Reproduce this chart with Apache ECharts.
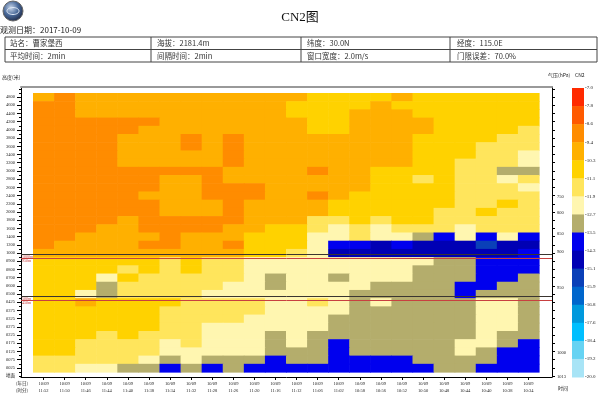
<!DOCTYPE html>
<html><head><meta charset="utf-8">
<script src="https://cdn.jsdelivr.net/npm/echarts@6/dist/echarts.min.js"></script>
<style>html,body{margin:0;padding:0;background:#fff}#c{width:600px;height:394px}</style>
</head><body><div id="c"></div>
<script>
// ---- data ----
const heightLabels = ['4800','4600','4400','4200','4000','3800','3600','3400','3200','3000','2800','2600','2400','2200','2000','1800','1600','1400','1200','1000','0900','0800','0700','0600','0500','0425','0375','0325','0275','0225','0175','0125','0075','0025'];
const groundLabel = '地面';
const dateLabel = '10/09';
const timeLabels = ['11:52','11:50','11:46','11:44','11:40','11:38','11:34','11:32','11:28','11:26','11:20','11:16','11:12','11:06','11:02','10:58','10:56','10:52','10:50','10:48','10:44','10:40','10:38','10:34'];
// log10(CN2), rows top (4800) -> bottom (0025), columns left -> right
const cn2 = [
[-9.8,-9.0,-9.8,-9.8,-9.8,-9.8,-9.8,-9.8,-9.8,-9.8,-9.8,-9.8, -9.8,-10.7,-10.7,-10.7,-10.7,-9.8,-10.7,-10.7,-10.7,-10.7,-10.7,-10.7],
[-9.0,-9.0,-9.8,-9.8,-9.8,-9.8,-9.8,-9.8,-9.8,-9.8,-9.8,-9.8, -10.7,-10.7,-10.7,-10.7,-9.8,-10.7,-10.7,-10.7,-10.7,-10.7,-10.7,-10.7],
[-9.0,-9.0,-9.8,-9.8,-9.8,-9.8,-9.8,-9.8,-9.8,-9.8,-9.8,-9.8, -10.7,-10.7,-10.7,-9.8,-9.8,-9.8,-10.7,-10.7,-10.7,-10.7,-10.7,-10.7],
[-9.0,-9.0,-9.0,-9.0,-9.0,-9.0,-9.8,-9.8,-9.8,-9.8,-9.8,-9.8, -9.8,-10.7,-10.7,-9.8,-9.8,-9.8,-9.8,-10.7,-10.7,-10.7,-10.7,-10.7],
[-9.0,-9.0,-9.0,-9.0,-9.0,-9.8,-9.8,-9.8,-9.8,-9.8,-9.8,-9.8, -9.8,-10.7,-10.7,-9.8,-9.8,-9.8,-9.8,-10.7,-10.7,-10.7,-10.7,-11.5],
[-9.0,-9.0,-9.0,-9.0,-9.8,-9.8,-9.8,-9.0,-9.8,-9.0,-9.8,-9.8, -9.8,-9.8,-9.8,-9.8,-9.8,-9.8,-10.7,-10.7,-10.7,-10.7,-11.5,-11.5],
[-9.0,-9.0,-9.0,-9.0,-9.8,-9.8,-9.8,-9.0,-9.8,-9.0,-9.8,-9.8, -9.8,-9.8,-9.8,-9.8,-9.8,-9.8,-10.7,-10.7,-10.7,-11.5,-11.5,-11.5],
[-9.0,-9.0,-9.0,-9.0,-9.8,-9.8,-9.8,-9.8,-9.8,-9.0,-9.8,-9.8, -9.8,-9.8,-9.8,-9.8,-9.8,-9.8,-10.7,-10.7,-10.7,-11.5,-11.5,-12.3],
[-9.0,-9.0,-9.0,-9.0,-9.8,-9.8,-9.8,-9.8,-9.8,-9.0,-9.8,-9.8, -9.8,-9.8,-9.8,-9.8,-9.8,-9.8,-10.7,-10.7,-11.5,-11.5,-11.5,-12.3],
[-9.0,-9.0,-9.0,-9.0,-9.0,-9.0,-9.0,-9.0,-9.0,-9.8,-9.8,-9.8, -9.8,-9.0,-9.8,-9.8,-10.7,-10.7,-10.7,-10.7,-11.5,-11.5,-13.1,-13.1],
[-9.0,-9.0,-9.0,-9.0,-9.0,-9.0,-9.8,-9.8,-9.0,-9.8,-9.8,-9.8, -9.8,-9.8,-9.8,-9.8,-10.7,-10.7,-11.5,-10.7,-11.5,-11.5,-12.3,-11.5],
[-9.0,-9.0,-9.0,-9.0,-9.0,-9.0,-9.8,-9.8,-9.0,-9.0,-9.0,-9.8, -9.8,-9.8,-9.8,-9.8,-10.7,-10.7,-10.7,-10.7,-11.5,-11.5,-11.5,-12.3],
[-9.0,-9.0,-9.0,-9.0,-9.0,-9.8,-9.8,-9.8,-9.0,-9.0,-9.0,-9.8, -9.8,-9.0,-9.8,-10.7,-10.7,-10.7,-10.7,-10.7,-11.5,-11.5,-11.5,-11.5],
[-9.0,-9.0,-9.0,-9.0,-9.0,-9.0,-9.8,-9.8,-9.8,-9.0,-9.8,-9.8, -9.8,-9.8,-10.7,-10.7,-10.7,-10.7,-10.7,-10.7,-11.5,-11.5,-10.7,-11.5],
[-9.0,-9.0,-9.0,-9.0,-9.0,-9.0,-9.8,-9.8,-9.8,-9.0,-9.8,-9.8, -9.8,-9.8,-10.7,-10.7,-10.7,-10.7,-10.7,-11.5,-11.5,-10.7,-11.5,-11.5],
[-9.0,-9.0,-9.0,-9.0,-9.8,-9.0,-9.0,-9.0,-9.0,-9.0,-9.8,-9.8, -9.8,-11.5,-11.5,-10.7,-11.5,-10.7,-10.7,-11.5,-11.5,-11.5,-11.5,-11.5],
[-9.0,-9.0,-9.0,-9.8,-9.8,-9.0,-9.0,-9.0,-9.0,-9.8,-9.8,-10.7, -10.7,-11.5,-12.3,-11.5,-12.3,-11.5,-11.5,-11.5,-12.3,-11.5,-11.5,-11.5],
[-9.0,-9.0,-9.8,-9.8,-9.8,-9.8,-9.0,-9.8,-9.8,-9.8,-10.7,-10.7, -10.7,-12.3,-12.3,-11.5,-12.3,-12.3,-13.1,-13.9,-12.3,-13.9,-12.3,-13.9],
[-9.0,-9.8,-9.8,-9.8,-9.8,-9.0,-9.0,-9.8,-9.8,-9.0,-10.7,-10.7, -10.7,-12.3,-13.9,-13.9,-14.7,-13.9,-14.7,-14.7,-14.7,-15.5,-14.7,-14.7],
[-9.8,-9.8,-9.8,-9.8,-9.8,-9.8,-9.8,-9.8,-9.8,-9.8,-10.7,-10.7, -11.5,-12.3,-14.7,-14.7,-14.7,-14.7,-14.7,-14.7,-14.7,-14.7,-14.7,-13.9],
[-10.7,-10.7,-10.7,-10.7,-10.7,-10.7,-11.5,-10.7,-11.5,-11.5,-12.3,-12.3, -12.3,-12.3,-12.3,-12.3,-12.3,-12.3,-12.3,-13.1,-13.1,-13.9,-13.9,-13.9],
[-10.7,-10.7,-10.7,-10.7,-11.5,-10.7,-11.5,-10.7,-11.5,-11.5,-12.3,-12.3, -12.3,-12.3,-12.3,-12.3,-12.3,-12.3,-13.1,-13.1,-13.1,-13.9,-13.9,-13.9],
[-10.7,-10.7,-10.7,-12.3,-10.7,-11.5,-11.5,-11.5,-11.5,-11.5,-12.3,-13.1, -12.3,-12.3,-13.1,-12.3,-12.3,-12.3,-13.1,-13.1,-13.1,-13.9,-13.9,-13.1],
[-10.7,-10.7,-10.7,-13.1,-11.5,-11.5,-11.5,-11.5,-11.5,-12.3,-12.3,-13.1, -12.3,-12.3,-12.3,-12.3,-13.1,-13.1,-13.1,-13.1,-13.9,-13.9,-13.1,-13.1],
[-10.7,-10.7,-12.3,-13.1,-11.5,-11.5,-11.5,-11.5,-12.3,-12.3,-12.3,-12.3, -12.3,-12.3,-12.3,-13.1,-13.1,-13.1,-13.1,-13.1,-13.9,-13.1,-13.1,-13.1],
[-10.7,-10.7,-9.8,-10.7,-10.7,-10.7,-10.7,-11.5,-11.5,-11.5,-11.5,-12.3, -12.3,-11.5,-12.3,-13.1,-12.3,-13.1,-13.1,-13.1,-13.1,-12.3,-12.3,-13.1],
[-10.7,-10.7,-10.7,-10.7,-10.7,-10.7,-11.5,-11.5,-11.5,-11.5,-11.5,-12.3, -12.3,-12.3,-12.3,-13.1,-13.1,-13.1,-13.1,-13.1,-13.1,-12.3,-12.3,-13.1],
[-10.7,-10.7,-10.7,-10.7,-10.7,-10.7,-11.5,-11.5,-11.5,-11.5,-12.3,-12.3, -12.3,-12.3,-13.1,-13.1,-13.1,-13.1,-13.1,-13.1,-13.1,-12.3,-12.3,-13.1],
[-10.7,-10.7,-10.7,-10.7,-10.7,-10.7,-11.5,-11.5,-12.3,-12.3,-12.3,-12.3, -12.3,-12.3,-13.1,-13.1,-13.1,-13.1,-13.1,-13.1,-13.1,-12.3,-12.3,-13.1],
[-10.7,-10.7,-10.7,-11.5,-10.7,-11.5,-11.5,-11.5,-12.3,-12.3,-12.3,-13.1, -12.3,-13.1,-13.1,-13.1,-13.1,-13.1,-13.1,-13.1,-13.1,-12.3,-13.1,-13.1],
[-10.7,-10.7,-11.5,-11.5,-11.5,-11.5,-12.3,-11.5,-12.3,-12.3,-12.3,-13.1, -12.3,-13.1,-13.9,-13.1,-13.1,-13.1,-13.1,-13.1,-12.3,-12.3,-13.1,-13.9],
[-10.7,-10.7,-11.5,-11.5,-11.5,-11.5,-12.3,-12.3,-12.3,-12.3,-12.3,-13.1, -13.1,-13.1,-13.9,-13.1,-13.1,-13.1,-13.1,-13.1,-12.3,-13.1,-13.9,-13.9],
[-11.5,-11.5,-11.5,-11.5,-11.5,-12.3,-13.1,-12.3,-13.1,-13.1,-13.1,-13.9, -13.1,-13.1,-13.9,-13.9,-13.9,-13.9,-13.1,-13.1,-13.1,-13.1,-13.9,-13.9],
[-11.5,-11.5,-12.3,-12.3,-13.1,-13.1,-13.9,-13.1,-13.9,-13.1,-13.9,-13.9, -13.9,-13.9,-13.9,-13.9,-13.9,-13.9,-13.9,-13.1,-13.1,-13.9,-13.9,-13.9]
];
const cn2Bounds = [-7.0,-7.8,-8.6,-9.4,-10.3,-11.1,-11.9,-12.7,-13.5,-14.3,-15.1,-15.9,-16.8,-17.6,-18.4,-19.2,-20.0];
const cn2Colors = ['#FF2A00','#FF5A00','#FF8C00','#FFB000','#FFD200','#FFE55C','#FFF6B0','#B4AD6C','#0000EE','#0000B4','#0A40B8','#0066CC','#0099DD','#00BFFF','#66D3F3','#A8E4F6'];
const pressureLabels = ['750','800','850','900','950','1000','1013'];
const pressureRows = [20.9, 18.9, 16.3, 14.2, 9.8, 1.8, -1.1];
const refLines = [
  {name:'1000m', row:13.83, color:'#3a3530'},
  {name:'950m', row:13.35, color:'#c84040'},
  {name:'500m', row:8.72, color:'#3a3530'},
  {name:'450m', row:8.24, color:'#c84040'}
];
const stationInfo = [
  ['站名：曹家堡西','海拔：2181.4m','纬度：30.0N','经度：115.0E'],
  ['平均时间：2min','间隔时间：2min','窗口宽度：2.0m/s','门限误差：70.0%']
];

// ---- build ----
const NR = heightLabels.length, NC = timeLabels.length;
const cells = [];
cn2.forEach((row, r) => row.forEach((v, c) => cells.push([c, NR - 1 - r, v])));
const X_MIN = -1.069, X_MAX = 24.117, Y_MIN = -1.107, Y_MAX = 34.229;
const colIdx = timeLabels.map((t, i) => i);
const rowIdx = heightLabels.map((t, i) => i);
const halfRows = [];
for (let v = -1; v <= 34; v += 0.5) halfRows.push(v);
const intRows = [];
for (let v = -1; v <= 34; v++) intRows.push(v);
const pieces = cn2Colors.map((col, i) => ({min: cn2Bounds[i + 1], max: cn2Bounds[i], color: col}));
const barData = cn2Colors.map((col, i) => [0.5, cn2Colors.length - 1 - i + 0.5, i]);
const FONT = '"Liberation Serif","Noto Sans CJK SC",serif';
const CJK = '"Noto Sans CJK SC",sans-serif';

const graphics = [
  {type:'circle', shape:{cx:13, cy:11, r:10}, style:{fill:{type:'radial', x:0.4, y:0.35, r:0.7, colorStops:[{offset:0,color:'#c8d6ea'},{offset:0.5,color:'#4a6a9a'},{offset:1,color:'#1a2440'}]}, stroke:'#666', lineWidth:1}},
  {type:'ellipse', shape:{cx:13, cy:11, rx:6, ry:3.5}, style:{fill:'none', stroke:'#dfe8f5', lineWidth:1}},
  {type:'text', x:0, y:30, style:{text:'观测日期：2017-10-09', font:'8px ' + CJK, fill:'#222', verticalAlign:'middle'}},
  {type:'rect', shape:{x:5, y:37, width:592, height:25}, style:{fill:'none', stroke:'#444', lineWidth:1}},
  {type:'line', shape:{x1:5, y1:49.5, x2:597, y2:49.5}, style:{stroke:'#444', lineWidth:1}},
  {type:'line', shape:{x1:151, y1:37, x2:151, y2:62}, style:{stroke:'#444', lineWidth:1}},
  {type:'line', shape:{x1:301, y1:37, x2:301, y2:62}, style:{stroke:'#444', lineWidth:1}},
  {type:'line', shape:{x1:450, y1:37, x2:450, y2:62}, style:{stroke:'#444', lineWidth:1}},
  {type:'text', x:2, y:77, style:{text:'高度(米)', font:'5px ' + CJK, fill:'#222', verticalAlign:'middle'}},
  {type:'text', x:548, y:75, style:{text:'气压(hPa)', font:'5px ' + CJK, fill:'#222', verticalAlign:'middle'}},
  {type:'text', x:575, y:75, style:{text:'CN2', font:'5px ' + CJK, fill:'#222', verticalAlign:'middle'}},
  {type:'text', x:16, y:387, style:{text:'(年日)\n(时分)', font:'4.5px ' + CJK, fill:'#222', verticalAlign:'middle', lineHeight:7}},
  {type:'text', x:558, y:388, style:{text:'时间', font:'5px ' + CJK, fill:'#222', verticalAlign:'middle'}}
];
const colX = [10, 157, 307, 457];
stationInfo.forEach((row, r) => row.forEach((t, c) => graphics.push(
  {type:'text', x:colX[c], y:43.5 + r * 12.5, style:{text:t, font:'7.5px ' + CJK, fill:'#333', verticalAlign:'middle'}}
)));

const chart = echarts.init(document.getElementById('c'));
chart.setOption({
  animation: false,
  backgroundColor: '#fff',
  title: {text:'CN2图', left:'center', top:6, textStyle:{fontFamily:FONT, fontSize:13, fontWeight:'normal', color:'#111'}},
  grid: [
    {left:21, top:87, width:531, height:291},
    {left:572, top:88, width:12, height:289}
  ],
  xAxis: [
    {gridIndex:0, type:'value', min:X_MIN, max:X_MAX, position:'bottom',
     axisLine:{onZero:false, lineStyle:{color:'#000', width:1}},
     axisTick:{customValues:colIdx, length:3, lineStyle:{color:'#000'}},
     axisLabel:{customValues:colIdx, formatter:v => dateLabel + '\n' + timeLabels[Math.round(v)], fontSize:4.5, lineHeight:7, margin:3, color:'#222', fontFamily:FONT},
     splitLine:{show:false}},
    {gridIndex:0, type:'value', min:X_MIN, max:X_MAX, position:'top',
     axisLine:{onZero:false, lineStyle:{color:'#999', width:2}}, axisTick:{show:false}, axisLabel:{show:false}, splitLine:{show:false}},
    {gridIndex:1, type:'value', min:0, max:1, show:false}
  ],
  yAxis: [
    {gridIndex:0, type:'value', min:Y_MIN, max:Y_MAX, position:'left',
     axisLine:{onZero:false, lineStyle:{color:'#000', width:1}},
     axisTick:{customValues:rowIdx, length:4, lineStyle:{color:'#000'}},
     axisLabel:{customValues:[-1].concat(rowIdx), formatter:v => v < 0 ? groundLabel : heightLabels[NR - 1 - Math.round(v)], fontSize:4.5, margin:6, color:'#222', fontFamily:FONT},
     splitLine:{show:false}},
    {gridIndex:0, type:'value', min:Y_MIN, max:Y_MAX, position:'right',
     axisLine:{onZero:false, lineStyle:{color:'#000', width:1}},
     axisTick:{customValues:intRows, length:3, lineStyle:{color:'#000'}},
     axisLabel:{customValues:pressureRows, formatter:v => pressureLabels[pressureRows.indexOf(v)], fontSize:4.5, margin:5, color:'#222', fontFamily:FONT},
     splitLine:{show:false}},
    {gridIndex:0, type:'value', min:Y_MIN, max:Y_MAX, position:'left',
     axisLine:{show:false, onZero:false}, axisTick:{customValues:halfRows, length:2, lineStyle:{color:'#000'}},
     axisLabel:{show:false}, splitLine:{show:false}},
    {gridIndex:1, type:'value', min:0, max:16, position:'right',
     axisLine:{show:false, onZero:false}, axisTick:{show:false},
     axisLabel:{customValues:cn2Bounds.map((b, i) => 16 - i), formatter:v => cn2Bounds[16 - Math.round(v)].toFixed(1), fontSize:5, margin:1, color:'#222', fontFamily:FONT},
     splitLine:{show:false}}
  ],
  visualMap: {type:'piecewise', show:false, dimension:2, seriesIndex:0, pieces:pieces},
  series: [
    {type:'custom', xAxisIndex:0, yAxisIndex:0, data:cells, encode:{x:0, y:1},
     renderItem:(params, api) => {
       const c = api.value(0), v = api.value(1);
       const p0 = api.coord([c - 0.5, v + 0.5]);
       const p1 = api.coord([c + 0.5, v - 0.5]);
       return {type:'rect', shape:{x:p0[0], y:p0[1], width:p1[0] - p0[0] + 0.6, height:p1[1] - p0[1] + 0.6}, style:{fill:api.visual('color')}};
     },
     markLine:{silent:true, symbol:'none', animation:false,
       data: refLines.map(l => ({yAxis:l.row, lineStyle:{color:l.color, width:1, type:'solid'},
         label:{show:true, formatter:l.name, position:'insideStartBottom', distance:[1, 1], fontSize:4, color:'#c84040', fontFamily:FONT}}))}
    },
    {type:'custom', xAxisIndex:2, yAxisIndex:3, data:barData, encode:{x:0, y:1},
     renderItem:(params, api) => {
       const v = api.value(1);
       const p0 = api.coord([0, v + 0.5]);
       const p1 = api.coord([1, v - 0.5]);
       return {type:'rect', shape:{x:p0[0], y:p0[1], width:p1[0] - p0[0], height:p1[1] - p0[1] + 0.5}, style:{fill:cn2Colors[api.value(2)]}};
     }}
  ],
  graphic: graphics
});
</script></body></html>
